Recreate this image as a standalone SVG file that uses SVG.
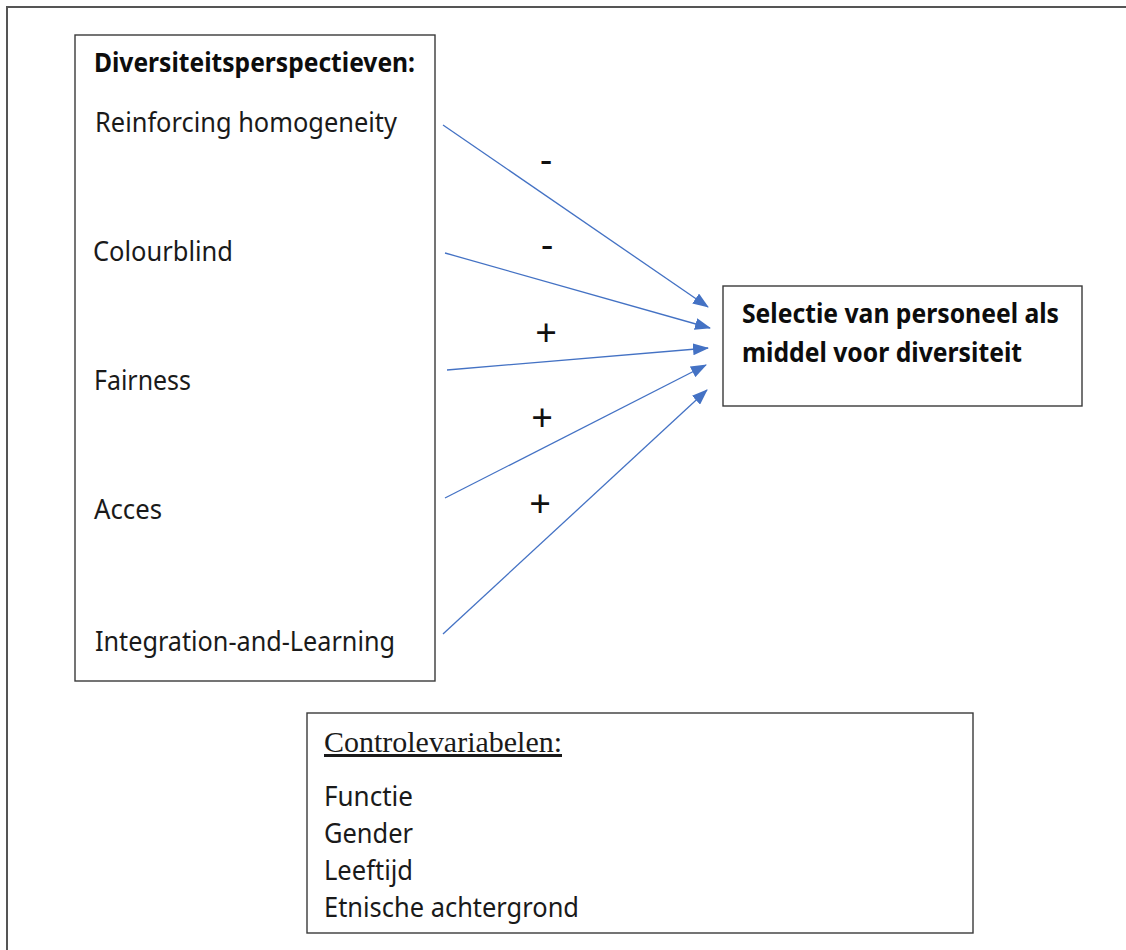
<svg xmlns="http://www.w3.org/2000/svg" width="1126" height="950" viewBox="0 0 1126 950">
  <style>
    .box { fill: #ffffff; stroke: #3a3a3a; stroke-width: 1.4; }
    .t { font-family: "Noto Sans", "Open Sans", sans-serif; font-size: 27px; fill: #1a1a1a; }
    .b { font-weight: bold; fill: #0d0d0d; }
    .serif { font-family: "Liberation Serif", "Times New Roman", serif; font-size: 30px; fill: #1a1a1a; text-decoration: underline; }
    .sign { font-family: "Noto Sans", "Open Sans", sans-serif; font-size: 38px; fill: #111; text-anchor: middle; }
    .arrow { stroke: #4472C4; stroke-width: 1.3; fill: none; marker-end: url(#ah); }
  </style>
  <defs>
    <marker id="ah" markerUnits="userSpaceOnUse" markerWidth="16" markerHeight="12" refX="15" refY="6" orient="auto">
      <path d="M0,0 L16,6 L0,12 Z" fill="#4472C4"/>
    </marker>
  </defs>
  <rect width="1126" height="950" fill="#ffffff"/>
  <path d="M7,950 L7,7 L1126,7" fill="none" stroke="#555555" stroke-width="2"/>

  <g id="perspectieven">
    <rect class="box" x="75" y="35" width="360" height="646"/>
    <text class="t b" x="94" y="72" textLength="321" lengthAdjust="spacingAndGlyphs">Diversiteitsperspectieven:</text>
    <text class="t" x="95" y="132" textLength="302" lengthAdjust="spacingAndGlyphs">Reinforcing homogeneity</text>
    <text class="t" x="93" y="261" textLength="140" lengthAdjust="spacingAndGlyphs">Colourblind</text>
    <text class="t" x="94" y="390" textLength="97" lengthAdjust="spacingAndGlyphs">Fairness</text>
    <text class="t" x="94" y="519" textLength="68" lengthAdjust="spacingAndGlyphs">Acces</text>
    <text class="t" x="95" y="651" textLength="300" lengthAdjust="spacingAndGlyphs">Integration-and-Learning</text>
  </g>

  <g id="selectie">
    <rect class="box" x="723" y="286" width="359" height="120"/>
    <text class="t b" x="742" y="323" textLength="317" lengthAdjust="spacingAndGlyphs">Selectie van personeel als</text>
    <text class="t b" x="742" y="362" textLength="280" lengthAdjust="spacingAndGlyphs">middel voor diversiteit</text>
  </g>

  <g id="controle">
    <rect class="box" x="307" y="713" width="666" height="220"/>
    <text class="serif" x="324" y="752" textLength="238" lengthAdjust="spacingAndGlyphs">Controlevariabelen:</text>
    <text class="t" x="324" y="806" textLength="89" lengthAdjust="spacingAndGlyphs">Functie</text>
    <text class="t" x="324" y="843" textLength="89" lengthAdjust="spacingAndGlyphs">Gender</text>
    <text class="t" x="324" y="880" textLength="89" lengthAdjust="spacingAndGlyphs">Leeftijd</text>
    <text class="t" x="324" y="917" textLength="255" lengthAdjust="spacingAndGlyphs">Etnische achtergrond</text>
  </g>

  <g id="connectors">
    <line class="arrow" x1="443" y1="125" x2="708" y2="307"/>
    <line class="arrow" x1="445" y1="253" x2="710" y2="328"/>
    <line class="arrow" x1="447" y1="370" x2="708" y2="348"/>
    <line class="arrow" x1="445" y1="498" x2="706" y2="365"/>
    <line class="arrow" x1="443" y1="634" x2="707" y2="390"/>
    <text class="sign" x="546" y="173">-</text>
    <text class="sign" x="547" y="258">-</text>
    <text class="sign" x="546" y="346">+</text>
    <text class="sign" x="542" y="431">+</text>
    <text class="sign" x="540" y="517">+</text>
  </g>
</svg>
